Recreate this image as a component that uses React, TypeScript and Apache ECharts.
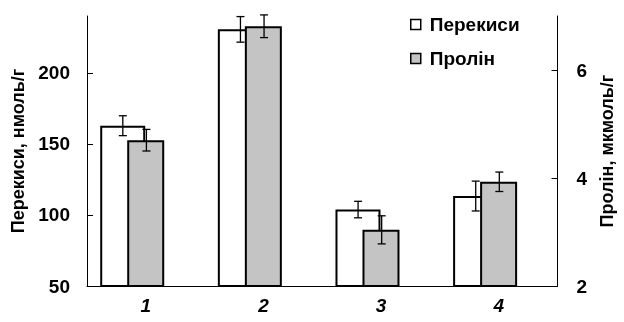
import React, { useEffect, useRef } from "react";
import * as echarts from "echarts";

const categories = ["1", "2", "3", "4"];
const peroxides = [162.8, 230.6, 103.8, 113.3];
const peroxidesErr = [7, 9, 5.8, 10.5];
const proline = [4.7, 6.81, 3.04, 3.93];
const prolineErr = [0.2, 0.21, 0.26, 0.18];
const leftTicks = [50, 100, 150, 200];
const rightTicks = [2, 4, 6];

const FONT = "Arial";
const WHITE_W = 45;
const GRAY_W = 37;
const WHITE_ERR_SHIFT = -23;

export default function App() {
  const ref = useRef<HTMLDivElement>(null);
  useEffect(() => {
    if (!ref.current) return;
    const chart = echarts.init(ref.current, null, { renderer: "svg" });
    const errRender = (shift: number) => (params: any, api: any) => {
      const i = api.value(0);
      const v = api.value(1);
      const e = api.value(2);
      const top = api.coord([i, v + e]);
      const bot = api.coord([i, v - e]);
      const x = top[0] + shift;
      const cap = 4;
      const style = { stroke: "#000", lineWidth: 1.3 };
      return {
        type: "group",
        children: [
          { type: "line", shape: { x1: x, y1: top[1], x2: x, y2: bot[1] }, style },
          { type: "line", shape: { x1: x - cap, y1: top[1], x2: x + cap, y2: top[1] }, style },
          { type: "line", shape: { x1: x - cap, y1: bot[1], x2: x + cap, y2: bot[1] }, style },
        ],
      };
    };
    const axisText = { fontFamily: FONT, fontWeight: "bold", fontSize: 19, color: "#000" };
    const nameText = { fontFamily: FONT, fontWeight: "bold", fontSize: 18, color: "#000" };
    chart.setOption({
      animation: false,
      textStyle: { fontFamily: FONT, fontWeight: "bold" },
      grid: { left: 87, right: 58, top: 16, bottom: 36 },
      legend: {
        data: ["Перекиси", "Пролін"],
        orient: "vertical",
        left: 410,
        top: 15,
        padding: 0,
        icon: "rect",
        itemWidth: 10,
        itemHeight: 10,
        itemGap: 15,
        itemStyle: { borderWidth: 1.5 },
        textStyle: { fontFamily: FONT, fontWeight: "bold", fontSize: 19, color: "#000", lineHeight: 18, padding: [0, 0, 0, 4] },
      },
      xAxis: {
        type: "category",
        data: categories,
        boundaryGap: true,
        axisLine: { lineStyle: { color: "#000", width: 1 } },
        axisTick: { inside: true, length: 5, lineStyle: { color: "#000" } },
        axisLabel: { ...axisText, fontStyle: "italic", margin: 10 },
      },
      yAxis: [
        {
          type: "value",
          min: 50,
          max: 240,
          interval: 50,
          position: "left",
          splitLine: { show: false },
          axisLine: { show: true, lineStyle: { color: "#000", width: 1 } },
          axisTick: { show: true, inside: true, length: 6, customValues: leftTicks, lineStyle: { color: "#000" } },
          axisLabel: { ...axisText, margin: 17, customValues: leftTicks },
          name: "Перекиси, нмоль/г",
          nameLocation: "middle",
          nameRotate: 90,
          nameGap: 59,
          nameTextStyle: nameText,
        },
        {
          type: "value",
          min: 2,
          max: 7,
          interval: 2,
          position: "right",
          splitLine: { show: false },
          axisLine: { show: true, lineStyle: { color: "#000", width: 1 } },
          axisTick: { show: true, inside: true, length: 6, customValues: rightTicks, lineStyle: { color: "#000" } },
          axisLabel: { ...axisText, margin: 19, customValues: rightTicks },
          name: "Пролін, мкмоль/г",
          nameLocation: "middle",
          nameRotate: 90,
          nameGap: 40,
          nameTextStyle: nameText,
        },
      ],
      series: [
        {
          name: "Перекиси",
          type: "bar",
          yAxisIndex: 0,
          data: peroxides,
          barWidth: WHITE_W,
          barGap: "-40%",
          itemStyle: { color: "#fff", borderColor: "#000", borderWidth: 2 },
          z: 2,
        },
        {
          name: "Пролін",
          type: "bar",
          yAxisIndex: 1,
          data: proline,
          barWidth: GRAY_W,
          barGap: "-40%",
          itemStyle: { color: "#c4c4c4", borderColor: "#000", borderWidth: 2 },
          z: 3,
        },
        {
          name: "spacer",
          type: "bar",
          yAxisIndex: 0,
          data: categories.map(() => "-"),
          barWidth: 42,
          barGap: "-40%",
          silent: true,
        },
        {
          name: "errP",
          type: "custom",
          yAxisIndex: 0,
          data: peroxides.map((v, i) => [i, v, peroxidesErr[i]]),
          encode: { x: 0, y: 1 },
          renderItem: errRender(WHITE_ERR_SHIFT),
          z: 5,
          silent: true,
        },
        {
          name: "errPr",
          type: "custom",
          yAxisIndex: 1,
          data: proline.map((v, i) => [i, v, prolineErr[i]]),
          encode: { x: 0, y: 1 },
          renderItem: errRender(0.6),
          z: 5,
          silent: true,
        },
      ],
    });
    return () => chart.dispose();
  }, []);
  return <div ref={ref} style={{ position: "fixed", left: 0, top: 0, width: 624, height: 322 }} />;
}
